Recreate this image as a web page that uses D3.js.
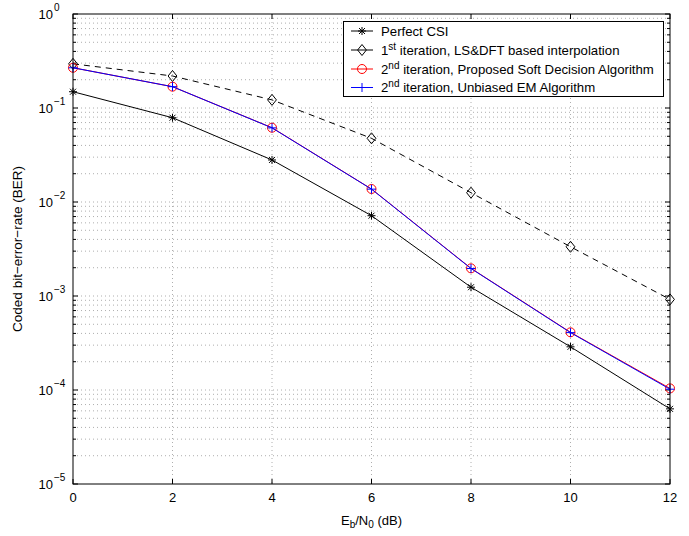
<!DOCTYPE html>
<html><head><meta charset="utf-8">
<script src="https://cdn.jsdelivr.net/npm/d3@7"></script>
<style>body{margin:0;background:#fff}svg{font-family:"Liberation Sans",Arial,sans-serif}</style>
</head><body><svg id="c" width="689" height="536"></svg>
<script>
const ebn0 = [0, 2, 4, 6, 8, 10, 12];
const perfectCSI = [0.149, 0.0788, 0.0280, 0.00715, 0.00124, 0.000288, 6.3e-5];
const lsDft = [0.295, 0.219, 0.122, 0.0476, 0.01256, 0.00334, 0.00092];
const proposedSD = [0.268, 0.1686, 0.0617, 0.01375, 0.00197, 0.000411, 1.04e-4];
const unbiasedEM = [0.268, 0.1686, 0.0615, 0.0137, 0.00196, 0.000408, 1.02e-4];
const xTicks = [0, 2, 4, 6, 8, 10, 12];
const yDecades = [-5, -4, -3, -2, -1, 0];
const legendLabels = [
  ["Perfect CSI", "", ""],
  ["1", "st", " iteration, LS&DFT based interpolation"],
  ["2", "nd", " iteration, Proposed Soft Decision Algorithm"],
  ["2", "nd", " iteration, Unbiased EM Algorithm"]
];

const svg = d3.select("#c");
const L = 73, R = 670, T = 14, B = 484;
const x = d3.scaleLinear().domain([0, 12]).range([L, R]);
const y = d3.scaleLog().domain([1e-5, 1]).range([B, T]);

// grid
const g = svg.append("g");
const minorVals = [];
yDecades.forEach(k => { if (k < 0) for (let m = 2; m <= 9; m++) minorVals.push(m * Math.pow(10, k)); });
const majorVals = yDecades.map(k => Math.pow(10, k));
g.selectAll(".hg").data(minorVals.concat(majorVals.slice(1, -1))).enter().append("line")
  .attr("x1", L).attr("x2", R).attr("y1", d => y(d)).attr("y2", d => y(d))
  .attr("stroke", "#999").attr("stroke-width", 0.8).attr("stroke-dasharray", "1,3");
g.selectAll(".vg").data(xTicks.slice(1, -1)).enter().append("line")
  .attr("y1", T).attr("y2", B).attr("x1", d => x(d)).attr("x2", d => x(d))
  .attr("stroke", "#999").attr("stroke-width", 0.8).attr("stroke-dasharray", "1,3");

// ticks
const tk = svg.append("g").attr("stroke", "#000").attr("stroke-width", 1);
xTicks.forEach(v => {
  tk.append("line").attr("x1", x(v)).attr("x2", x(v)).attr("y1", B).attr("y2", B - 5);
  tk.append("line").attr("x1", x(v)).attr("x2", x(v)).attr("y1", T).attr("y2", T + 5);
});
majorVals.forEach(v => {
  tk.append("line").attr("x1", L).attr("x2", L + 5).attr("y1", y(v)).attr("y2", y(v));
  tk.append("line").attr("x1", R).attr("x2", R - 5).attr("y1", y(v)).attr("y2", y(v));
});
minorVals.forEach(v => {
  tk.append("line").attr("x1", L).attr("x2", L + 3).attr("y1", y(v)).attr("y2", y(v));
  tk.append("line").attr("x1", R).attr("x2", R - 3).attr("y1", y(v)).attr("y2", y(v));
});

// tick labels
svg.selectAll(".xl").data(xTicks).enter().append("text")
  .attr("x", d => x(d)).attr("y", B + 18).attr("text-anchor", "middle")
  .attr("font-size", 13).text(d => d);
yDecades.forEach(k => {
  svg.append("text").attr("x", L - 20).attr("y", y(Math.pow(10, k)) + 5)
    .attr("text-anchor", "end").attr("font-size", 13).text("10");
  svg.append("text").attr("x", L - 19).attr("y", y(Math.pow(10, k)) - 3)
    .attr("font-size", 10).text(k === 0 ? "0" : "\u2212" + (-k));
});

// axis labels
const xl = svg.append("text").attr("x", (L + R) / 2).attr("y", 525).attr("text-anchor", "middle").attr("font-size", 13);
xl.append("tspan").text("E");
xl.append("tspan").attr("font-size", 10).attr("dy", 3).text("b");
xl.append("tspan").attr("dy", -3).text("/N");
xl.append("tspan").attr("font-size", 10).attr("dy", 3).text("0");
xl.append("tspan").attr("dy", -3).text(" (dB)");
svg.append("text").attr("transform", `translate(22,${(T + B) / 2}) rotate(-90)`)
  .attr("text-anchor", "middle").attr("font-size", 13.5).text("Coded bit\u2212error\u2212rate (BER)");

// series
const series = [
  {vals: perfectCSI, color: "#000", dash: null, marker: "star"},
  {vals: lsDft, color: "#000", dash: "6,5", marker: "diamond"},
  {vals: proposedSD, color: "#ff0000", dash: null, marker: "circle"},
  {vals: unbiasedEM, color: "#0000ff", dash: null, marker: "plus"}
];
const line = d3.line().x((d, i) => x(ebn0[i])).y(d => y(d));
const plot = svg.append("g");

function drawMarker(sel, type, cx, cy, color) {
  if (type === "star") {
    const s = 4;
    sel.append("path").attr("d", `M${cx-s},${cy}H${cx+s}M${cx},${cy-s}V${cy+s}M${cx-s*0.75},${cy-s*0.75}L${cx+s*0.75},${cy+s*0.75}M${cx-s*0.75},${cy+s*0.75}L${cx+s*0.75},${cy-s*0.75}`)
      .attr("stroke", color).attr("stroke-width", 1).attr("fill", "none");
  } else if (type === "diamond") {
    const s = 5.5;
    sel.append("path").attr("d", `M${cx},${cy-s}L${cx+s*0.8},${cy}L${cx},${cy+s}L${cx-s*0.8},${cy}Z`)
      .attr("stroke", color).attr("stroke-width", 1).attr("fill", "none");
  } else if (type === "circle") {
    sel.append("circle").attr("cx", cx).attr("cy", cy).attr("r", 4.5)
      .attr("stroke", color).attr("stroke-width", 1).attr("fill", "none");
  } else if (type === "plus") {
    const s = 4.5;
    sel.append("path").attr("d", `M${cx-s},${cy}H${cx+s}M${cx},${cy-s}V${cy+s}`)
      .attr("stroke", color).attr("stroke-width", 1).attr("fill", "none");
  }
}

series.forEach(s => {
  plot.append("path").datum(s.vals).attr("d", line).attr("fill", "none")
    .attr("stroke", s.color).attr("stroke-width", 1)
    .attr("stroke-dasharray", s.dash);
  s.vals.forEach((v, i) => drawMarker(plot, s.marker, x(ebn0[i]), y(v), s.color));
});

// frame
svg.append("rect").attr("x", L).attr("y", T).attr("width", R - L).attr("height", B - T)
  .attr("fill", "none").attr("stroke", "#000").attr("stroke-width", 1);

// legend
const lg = svg.append("g");
lg.append("rect").attr("x", 343.5).attr("y", 21.5).attr("width", 320).attr("height", 75)
  .attr("fill", "#fff").attr("stroke", "#000").attr("stroke-width", 1);
const rows = [31, 50, 69, 87.5];
series.forEach((s, i) => {
  const yy = rows[i];
  lg.append("line").attr("x1", 351).attr("x2", 373).attr("y1", yy).attr("y2", yy)
    .attr("stroke", s.color).attr("stroke-width", 1);
  drawMarker(lg, s.marker, 362, yy, s.color);
  const t = lg.append("text").attr("x", 381).attr("y", yy + 4.5).attr("font-size", 13.2);
  const lab = legendLabels[i];
  t.append("tspan").text(lab[0]);
  if (lab[1]) {
    t.append("tspan").attr("font-size", 10).attr("dy", -5).text(lab[1]);
    t.append("tspan").attr("dy", 5).text(lab[2]);
  }
});
</script></body></html>
